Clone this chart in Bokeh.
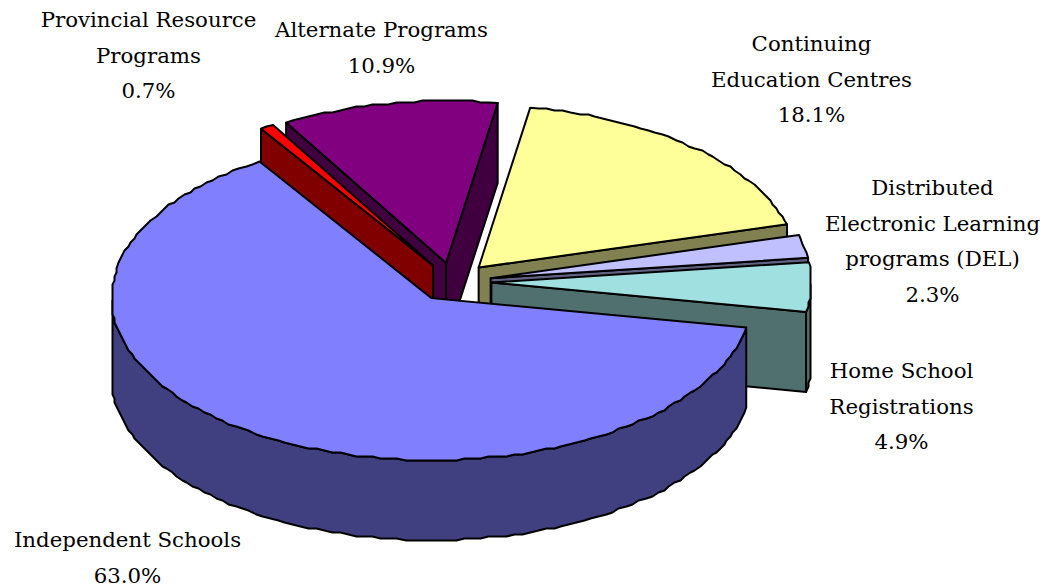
import math
from bokeh.plotting import figure
from bokeh.embed import file_html
from bokeh.resources import INLINE
from bokeh.core.properties import value

# Data, clockwise from the start angle
categories = ["Alternate Programs", "Continuing Education Centres",
              "Distributed Electronic Learning programs (DEL)",
              "Home School Registrations", "Independent Schools",
              "Provincial Resource Programs"]
shares = [10.9, 18.1, 2.3, 4.9, 63.0, 0.7]
top_colours = ["#800080", "#FFFF99", "#C0C0FF", "#A0E0E0", "#8080FF", "#FF0000"]
wall_colours = ["#400040", "#808050", "#606080", "#507070", "#404080", "#800000"]
label_lines = [["Alternate Programs", "10.9%"],
               ["Continuing", "Education Centres", "18.1%"],
               ["Distributed", "Electronic Learning", "programs (DEL)", "2.3%"],
               ["Home School", "Registrations", "4.9%"],
               ["Independent Schools", "63.0%"],
               ["Provincial Resource", "Programs", "0.7%"]]
label_anchor = [(381, 29), (811, 43), (932, 187), (901, 370), (127, 539), (148, 19)]

# Layout
W, H = 1045, 588
CX, CY = 452.5, 281.5
RX, RY = 320, 162
DEPTH = 80
EXPLODE = 0.12
START = -120.0
LINE_H = 35.6
FONT = "DejaVu Serif"
FONT_SIZE = "21.3px"
RIM_STEP_DEG = 1.5   # the reference's rim is a finely stepped polygon
RIM_SNAP_PX = 2

p = figure(width=W, height=H, x_range=(0, W), y_range=(H, 0),
           toolbar_location=None, output_backend="svg", min_border=0,
           outline_line_color=None, background_fill_color="white")
p.axis.visible = False
p.grid.visible = False


def poly(xs, ys, fill):
    p.patch(xs, ys, fill_color=fill, line_color="black", line_width=2,
            line_join="round")


def snap(v):
    return round(v / RIM_SNAP_PX) * RIM_SNAP_PX


total = sum(shares)
a = START
angles = []
for s in shares:
    b = a + 360 * s / total
    angles.append((a, b))
    a = b

# back to front: Alternate, Provincial, Continuing, DEL, Home, Independent
for i in [0, 5, 1, 2, 3, 4]:
    t0, t1 = angles[i]
    mid = math.radians((t0 + t1) / 2)
    ax = CX + EXPLODE * RX * math.cos(mid)
    ay = CY + EXPLODE * RY * math.sin(mid)
    n = max(2, int((t1 - t0) / RIM_STEP_DEG))
    ts = [t0 + (t1 - t0) * k / n for k in range(n + 1)]
    rimx = [ax + RX * math.cos(math.radians(t)) for t in ts]
    rimy = [ay + RY * math.sin(math.radians(t)) for t in ts]
    for k in range(1, n):
        rimx[k] = snap(rimx[k])
        rimy[k] = snap(rimy[k])
    if math.sin(math.radians(t0 - 90)) > 0:
        poly([ax, rimx[0], rimx[0], ax], [ay, rimy[0], rimy[0] + DEPTH, ay + DEPTH], wall_colours[i])
    if math.sin(math.radians(t1 + 90)) > 0:
        poly([ax, rimx[-1], rimx[-1], ax], [ay, rimy[-1], rimy[-1] + DEPTH, ay + DEPTH], wall_colours[i])
    vis = [k for k, t in enumerate(ts) if math.sin(math.radians(t)) >= 0]
    if len(vis) > 1:
        xs = [rimx[k] for k in vis]
        ys = [rimy[k] for k in vis]
        poly(xs + xs[::-1], ys + [y + DEPTH for y in ys[::-1]], wall_colours[i])
    poly([ax] + rimx, [ay] + rimy, top_colours[i])

for lines, (lx, ly) in zip(label_lines, label_anchor):
    ys = [ly + LINE_H * k for k in range(len(lines))]
    p.text([lx] * len(lines), ys, text=lines, text_font=value(FONT),
           text_font_size=value(FONT_SIZE), text_color="black",
           text_align="center", text_baseline="middle")

open("out.html", "w").write(file_html(p, INLINE))
